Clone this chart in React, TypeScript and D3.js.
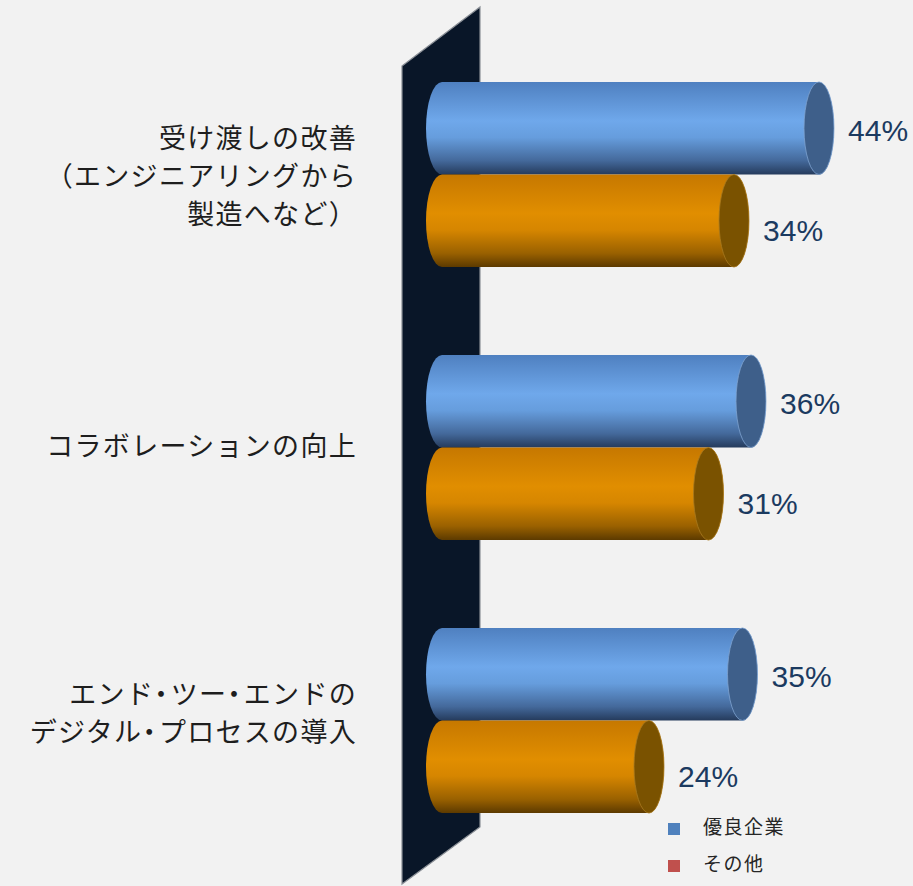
import React from "react";
import * as d3 from "d3";

const categories = [
  "受け渡しの改善\n（エンジニアリングから\n製造へなど）",
  "コラボレーションの向上",
  "エンド・ツー・エンドの\nデジタル・プロセスの導入",
];
const seriesNames = ["優良企業", "その他"];
const topPerformers = [44, 36, 35];
const others = [34, 31, 24];
const valueSuffix = "%";

const W = 913;
const H = 886;

function renderLine(ln: string) {
  const parts: React.ReactNode[] = [];
  let buf = "";
  let k = 0;
  for (const ch of ln) {
    if (ch === "・") {
      if (buf) parts.push(<tspan key={k++}>{buf}</tspan>);
      buf = "";
      parts.push(
        <tspan key={k++} style={{ fontFeatureSettings: '"palt"' }} letterSpacing={3}>
          {ch}
        </tspan>
      );
    } else {
      buf += ch;
    }
  }
  if (buf) parts.push(<tspan key={k++}>{buf}</tspan>);
  return parts;
}

export default function App() {
  const y = d3.scaleBand<string>().domain(categories).range([38, 857]).paddingInner(0.322).paddingOuter(0.161);
  const ys = d3.scaleBand<string>().domain(seriesNames).range([0, y.bandwidth()]).padding(0);
  const x = d3.scaleLinear().domain([0, 44]).range([460, 834]);
  const xStart = 426;
  const rx = 16;

  const seriesData = [topPerformers, others];
  const bodyGrad = ["gBlue", "gOrange"];
  const capFill = ["#3e5f8a", "#7a5200"];
  const capStroke = ["#7fa3d0", "#a87a20"];
  const labelDy = [5, 12];
  const labelShift = [4, 1, -5];

  const cyl = (x1: number, y0: number, h: number) => {
    const y1 = y0 + h;
    const ry = h / 2;
    const cx0 = xStart + rx;
    const cx1 = x1 - 15;
    return `M${cx0},${y0}L${cx1},${y0}A15,${ry} 0 0 1 ${cx1},${y1}L${cx0},${y1}A${rx},${ry} 0 0 1 ${cx0},${y0}Z`;
  };

  return (
    <svg width={W} height={H} style={{ position: "absolute", left: 0, top: 0, background: "#f2f2f2" }}>
      <defs>
        <linearGradient id="gBlue" x1="0" y1="0" x2="0" y2="1">
          <stop offset="0" stopColor="#4f80c0" />
          <stop offset="0.42" stopColor="#6fa8eb" />
          <stop offset="0.6" stopColor="#669ddd" />
          <stop offset="0.85" stopColor="#44699b" />
          <stop offset="1" stopColor="#253b5c" />
        </linearGradient>
        <linearGradient id="gOrange" x1="0" y1="0" x2="0" y2="1">
          <stop offset="0" stopColor="#c67800" />
          <stop offset="0.42" stopColor="#e18e00" />
          <stop offset="0.6" stopColor="#d68600" />
          <stop offset="0.85" stopColor="#9a6100" />
          <stop offset="1" stopColor="#5c3a00" />
        </linearGradient>
      </defs>
      <rect x={0} y={0} width={W} height={H} fill="#f2f2f2" />
      <polygon points="402,66 480,7 480,827 402,884" fill="#091628" stroke="#8a8f96" strokeWidth={1.2} />

      {categories.map((c, ci) => (
        <g key={c}>
          {seriesNames.map((s, si) => {
            const v = seriesData[si][ci];
            const top = (y(c) ?? 0) + (ys(s) ?? 0);
            const h = ys.bandwidth();
            const xr = x(v);
            return (
              <g key={s}>
                <path d={cyl(xr, top, h)} fill={`url(#${bodyGrad[si]})`} />
                <ellipse cx={xr - 15} cy={top + h / 2} rx={15} ry={h / 2} fill={capFill[si]} stroke={capStroke[si]} strokeWidth={0.8} />
                <text
                  x={xr + 14}
                  y={top + h / 2 + labelDy[si]}
                  dominantBaseline="middle"
                  fontFamily="'Liberation Sans', Arial, sans-serif"
                  fontSize={30}
                  fill="#1b3a60"
                >
                  {v}
                  {valueSuffix}
                </text>
              </g>
            );
          })}
          {(() => {
            const lines = c.split("\n");
            const cy = (y(c) ?? 0) + y.bandwidth() / 2 + labelShift[ci];
            const lh = 38;
            return lines.map((ln, li) => (
              <text
                key={li}
                x={357}
                y={cy + (li - (lines.length - 1) / 2) * lh}
                textAnchor="end"
                dominantBaseline="middle"
                fontFamily="'Noto Sans CJK JP', sans-serif"
                fontSize={27}
                letterSpacing={1.3}
                fill="#1e1e1e"
              >
                {renderLine(ln)}
              </text>
            ));
          })()}
        </g>
      ))}

      {seriesNames.map((s, si) => (
        <g key={s} transform={`translate(668, ${823 + si * 37})`}>
          <rect width={12} height={12} fill={["#4f81bd", "#c0504d"][si]} />
          <text x={35} y={6} dominantBaseline="middle" fontFamily="'Noto Sans CJK JP', sans-serif" fontSize={19} letterSpacing={1.5} fill="#262626">
            {s}
          </text>
        </g>
      ))}
    </svg>
  );
}
